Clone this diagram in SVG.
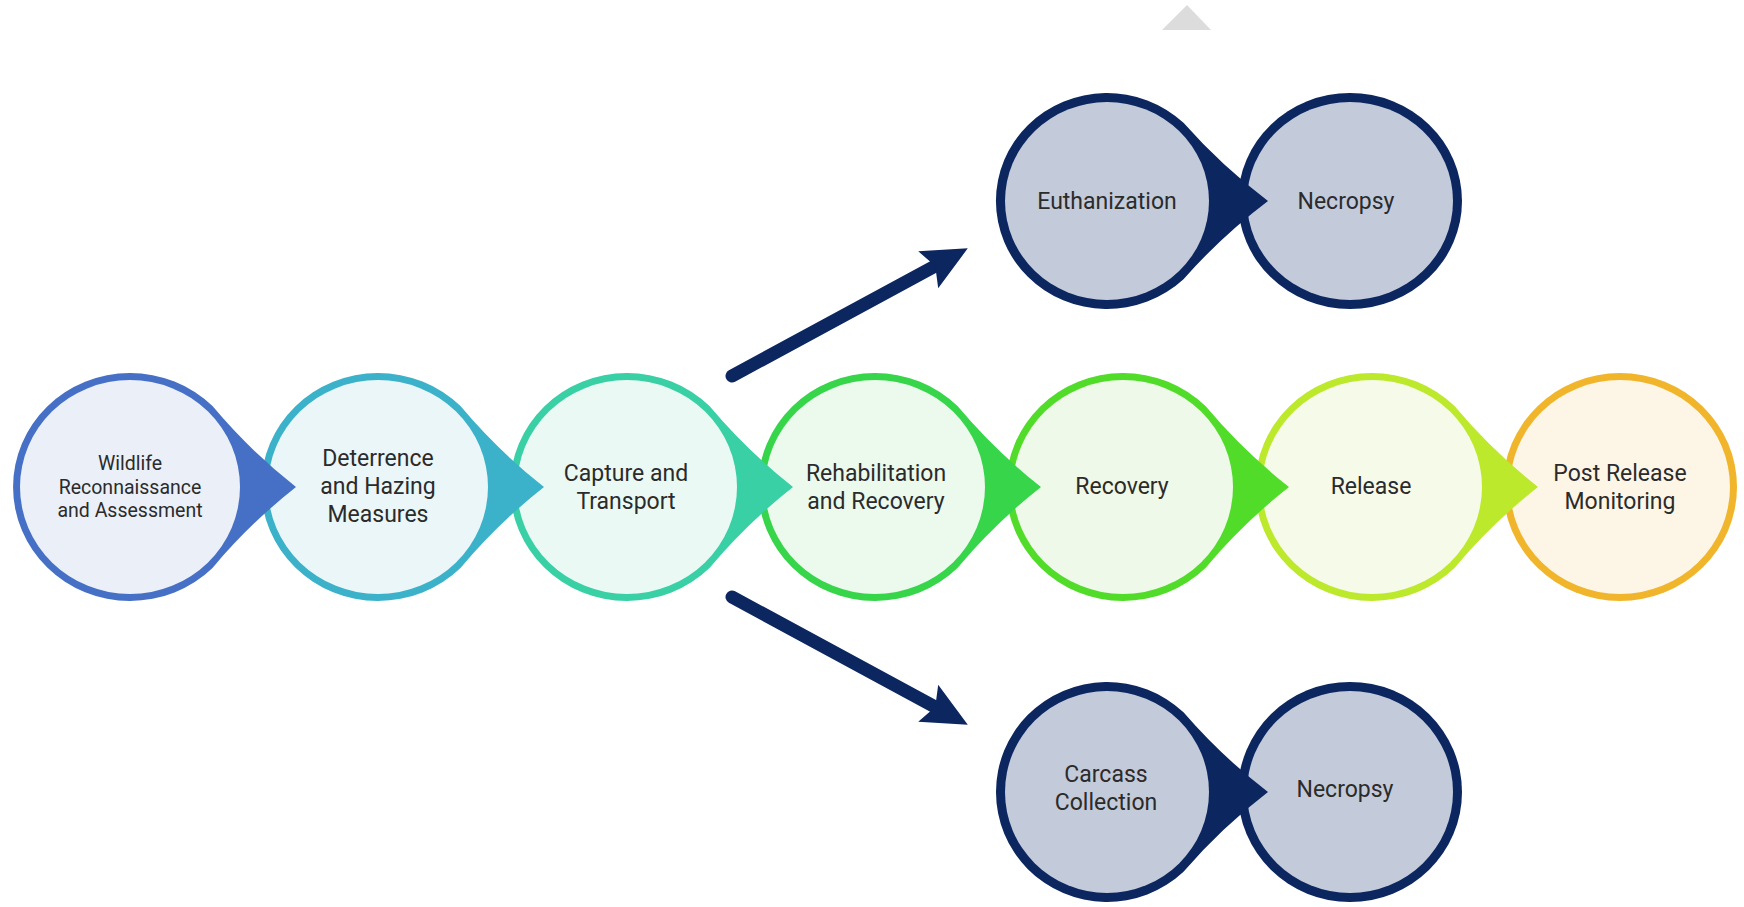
<svg xmlns="http://www.w3.org/2000/svg" width="1744" height="907" viewBox="0 0 1744 907">
<defs>
<style>
text{font-family:Roboto,"Open Sans","Liberation Sans",sans-serif;fill:#2b2b2b;text-anchor:middle}
.t{font-size:23px}
.ts{font-size:19.5px}
.c1{fill:#4670c6}.f1{fill:#eaeff8}
.c2{fill:#3bb2ca}.f2{fill:#eaf6f8}
.c3{fill:#38d0a4}.f3{fill:#ebf9f4}
.c4{fill:#36d54a}.f4{fill:#ecf9ed}
.c5{fill:#52dc2a}.f5{fill:#eff9ea}
.c6{fill:#bde92c}.f6{fill:#f6fae9}
.c7{fill:#f1b52b}.f7{fill:#fdf6e7}
.cn{fill:#0c2660}.fn{fill:#c3cada}
.arrow{stroke:#0c2660;stroke-width:13;stroke-linecap:round;fill:none}
</style>
<marker id="head" markerUnits="userSpaceOnUse" viewBox="0 0 45 42" refX="10" refY="21" markerWidth="45" markerHeight="42" orient="auto">
<path d="M0,0 L45,21 L0,42 L8,21 Z" fill="#0c2660"/>
</marker>
</defs>
<rect width="1744" height="907" fill="#ffffff"/>
<polygon points="1162,30 1187,5 1211,30" fill="#dcdcdc"/>

<g id="node7">
<ellipse cx="1620" cy="487" rx="117" ry="114" class="c7"/>
<ellipse cx="1620" cy="487" rx="110" ry="107" class="f7"/>
<text class="t" x="1620" y="481">Post Release</text>
<text class="t" x="1620" y="509">Monitoring</text>
</g>
<g id="node6">
<path d="M1538,487 Q1492.1,450.9 1454.5,406.1 A117,114 0 1 0 1454.5,567.9 Q1492.1,523.1 1538,487 Z" class="c6"/>
<ellipse cx="1372" cy="487" rx="110" ry="107" class="f6"/>
<text class="t" x="1371" y="494">Release</text>
</g>
<g id="node5">
<path d="M1289,487 Q1243.1,450.9 1205.5,406.1 A117,114 0 1 0 1205.5,567.9 Q1243.1,523.1 1289,487 Z" class="c5"/>
<ellipse cx="1123" cy="487" rx="110" ry="107" class="f5"/>
<text class="t" x="1122" y="494">Recovery</text>
</g>
<g id="node4">
<path d="M1041,487 Q995.1,450.9 957.5,406.1 A117,114 0 1 0 957.5,567.9 Q995.1,523.1 1041,487 Z" class="c4"/>
<ellipse cx="875" cy="487" rx="110" ry="107" class="f4"/>
<text class="t" x="876" y="481">Rehabilitation</text>
<text class="t" x="876" y="509">and Recovery</text>
</g>
<g id="node3">
<path d="M793,487 Q747.1,450.9 709.5,406.1 A117,114 0 1 0 709.5,567.9 Q747.1,523.1 793,487 Z" class="c3"/>
<ellipse cx="627" cy="487" rx="110" ry="107" class="f3"/>
<text class="t" x="626" y="481">Capture and</text>
<text class="t" x="626" y="509">Transport</text>
</g>
<g id="node2">
<path d="M544,487 Q498.1,450.9 460.5,406.1 A117,114 0 1 0 460.5,567.9 Q498.1,523.1 544,487 Z" class="c2"/>
<ellipse cx="378" cy="487" rx="110" ry="107" class="f2"/>
<text class="t" x="378" y="466">Deterrence</text>
<text class="t" x="378" y="494">and Hazing</text>
<text class="t" x="378" y="522">Measures</text>
</g>
<g id="node1">
<path d="M296,487 Q250.1,450.9 212.5,406.1 A117,114 0 1 0 212.5,567.9 Q250.1,523.1 296,487 Z" class="c1"/>
<ellipse cx="130" cy="487" rx="110" ry="107" class="f1"/>
<text class="ts" x="130" y="470">Wildlife</text>
<text class="ts" x="130" y="493.5">Reconnaissance</text>
<text class="ts" x="130" y="517">and Assessment</text>
</g>

<g id="necropsy1">
<ellipse cx="1350" cy="201" rx="112" ry="108" class="cn"/>
<ellipse cx="1350" cy="201" rx="103" ry="99" class="fn"/>
<text class="t" x="1346" y="209">Necropsy</text>
</g>
<g id="euthanization">
<path d="M1268,201 Q1221.7,166 1183.5,122.8 A111,108 0 1 0 1183.5,279.2 Q1221.7,236 1268,201 Z" class="cn"/>
<ellipse cx="1107" cy="201" rx="102" ry="99" class="fn"/>
<text class="t" x="1107" y="209">Euthanization</text>
</g>

<g id="necropsy2">
<ellipse cx="1350" cy="792" rx="112" ry="110" class="cn"/>
<ellipse cx="1350" cy="792" rx="103" ry="101" class="fn"/>
<text class="t" x="1345" y="797">Necropsy</text>
</g>
<g id="carcass">
<path d="M1268,792 Q1221.7,756.5 1183.5,712.3 A111,110 0 1 0 1183.5,871.7 Q1221.7,827.5 1268,792 Z" class="cn"/>
<ellipse cx="1107" cy="792" rx="102" ry="101" class="fn"/>
<text class="t" x="1106" y="782">Carcass</text>
<text class="t" x="1106" y="810">Collection</text>
</g>

<g id="connectors">
<line class="arrow" x1="732" y1="376" x2="937" y2="265" marker-end="url(#head)"/>
<line class="arrow" x1="732" y1="597" x2="937" y2="708" marker-end="url(#head)"/>
</g>
</svg>
